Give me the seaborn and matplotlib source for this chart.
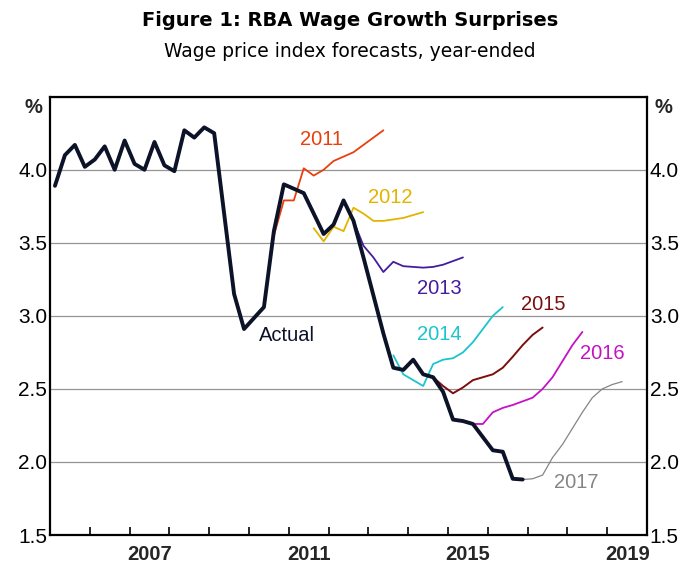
import matplotlib
matplotlib.use("Agg")
import matplotlib.pyplot as plt
import seaborn as sns
import pandas as pd
import numpy as np

# ---------------- data (year-ended WPI growth, %) ----------------
actual_start = "2005Q1"
actual = [3.89, 4.10, 4.17, 4.02, 4.07, 4.16, 4.00, 4.20, 4.04, 4.00, 4.19, 4.03,
          3.99, 4.27, 4.22, 4.29, 4.25, 3.70, 3.15, 2.91, 2.985, 3.06, 3.58, 3.90,
          3.87, 3.84, 3.70, 3.56, 3.625, 3.79, 3.65, 3.40, 3.14, 2.88, 2.645, 2.63,
          2.70, 2.60, 2.58, 2.48, 2.29, 2.28, 2.26, 2.17, 2.08, 2.07, 1.885, 1.88]

f2011_start = "2010Q3"
f2011 = [3.55, 3.79, 3.79, 4.01, 3.96, 4.00, 4.06, 4.09, 4.12, 4.17, 4.22, 4.27]
f2012_start = "2011Q3"
f2012 = [3.60, 3.51, 3.61, 3.58, 3.74, 3.70, 3.65, 3.65, 3.66, 3.67, 3.69, 3.71]
f2013_start = "2012Q3"
f2013 = [3.65, 3.48, 3.40, 3.30, 3.37, 3.34, 3.335, 3.33, 3.335, 3.35, 3.375, 3.40]
f2014_start = "2013Q3"
f2014 = [2.73, 2.60, 2.56, 2.52, 2.67, 2.70, 2.71, 2.75, 2.82, 2.91, 3.00, 3.06]
f2015_start = "2014Q3"
f2015 = [2.58, 2.52, 2.47, 2.51, 2.56, 2.58, 2.60, 2.645, 2.72, 2.80, 2.87, 2.92]
f2016_start = "2015Q3"
f2016 = [2.26, 2.26, 2.34, 2.37, 2.39, 2.415, 2.44, 2.50, 2.58, 2.69, 2.80, 2.89]
f2017_start = "2016Q4"
f2017 = [1.88, 1.885, 1.91, 2.03, 2.12, 2.23, 2.34, 2.44, 2.50, 2.53, 2.55]

series_names = ["Actual", "2011", "2012", "2013", "2014", "2015", "2016", "2017"]
series_starts = [actual_start, f2011_start, f2012_start, f2013_start,
                 f2014_start, f2015_start, f2016_start, f2017_start]
series_values = [actual, f2011, f2012, f2013, f2014, f2015, f2016, f2017]

y_ticks = [1.5, 2.0, 2.5, 3.0, 3.5, 4.0]
x_label_years = [2007, 2011, 2015, 2019]

title = "Figure 1: RBA Wage Growth Surprises"
subtitle = "Wage price index forecasts, year-ended"

# ---------------- styling ----------------
colors = {"Actual": "#0c1228", "2011": "#e8400c", "2012": "#e2b400",
          "2013": "#451c9e", "2014": "#1cc4cc", "2015": "#7c0e0e",
          "2016": "#c412c4", "2017": "#858585"}
widths = {"Actual": 2.8, "2011": 1.3, "2012": 1.3, "2013": 1.3, "2014": 1.3,
          "2015": 1.4, "2016": 1.3, "2017": 0.9}
label_pos = {"Actual": (2010.95, 2.865), "2011": (2011.83, 4.21),
             "2012": (2013.55, 3.81), "2013": (2014.79, 3.185),
             "2014": (2014.79, 2.874), "2015": (2017.40, 3.075),
             "2016": (2018.87, 2.743), "2017": (2018.21, 1.86)}

def quarters(start, n):
    p = pd.period_range(start=start, periods=n, freq="Q")
    return p.year + (p.quarter - 0.5) / 4.0

frames = []
for name, start, vals in zip(series_names, series_starts, series_values):
    frames.append(pd.DataFrame({"x": quarters(start, len(vals)), "y": vals, "series": name}))
df = pd.concat(frames, ignore_index=True)

sns.set_style("white")
plt.rcParams["font.family"] = ["Liberation Sans", "DejaVu Sans"]

fig = plt.figure(figsize=(7.0, 5.86), dpi=100)
ax = fig.add_axes([0.0714, 0.087, 0.853, 0.748])

# draw forecasts first, actual on top
for name in series_names[1:] + series_names[:1]:
    sub = df[df["series"] == name]
    sns.lineplot(data=sub, x="x", y="y", ax=ax, color=colors[name],
                 linewidth=widths[name], legend=False, estimator=None, sort=False,
                 zorder=5 if name == "Actual" else 3)

for name, (lx, ly) in label_pos.items():
    ax.text(lx, ly, name, color=colors[name], fontsize=14.5, ha="center", va="center",
            zorder=6)

ax.set_xlim(2005, 2020)
ax.set_ylim(1.5, 4.5)
ax.set_xlabel("")
ax.set_ylabel("")

# y axis: labels both sides, no tick marks
ax.set_yticks(y_ticks + [4.5])
ax.set_yticklabels([f"{v:.1f}" for v in y_ticks] + [""])
ax.tick_params(axis="y", length=0, labelsize=15, left=True, right=True,
               labelleft=True, labelright=True, pad=2, colors="black")
ax.yaxis.grid(True, color="#959595", linewidth=0.9)
ax.set_axisbelow(True)

# x axis: year-boundary ticks pointing inward, labels centred on years
ax.set_xticks(np.arange(2006, 2020))
ax.set_xticklabels([])
ax.tick_params(axis="x", which="major", direction="in", length=6, width=1.2,
               colors="black", bottom=True)
ax.set_xticks([y + 0.5 for y in x_label_years], minor=True)
ax.set_xticklabels([str(y) for y in x_label_years], minor=True,
                   fontsize=14.5, fontweight="bold")
ax.tick_params(axis="x", which="minor", length=0, pad=7)

for s in ax.spines.values():
    s.set_visible(True)
    s.set_color("black")
    s.set_linewidth(1.6)

ax.text(-0.012, 0.975, "%", transform=ax.transAxes, ha="right", va="center",
        fontsize=14.5, fontweight="bold")
ax.text(1.012, 0.975, "%", transform=ax.transAxes, ha="left", va="center",
        fontsize=14.5, fontweight="bold")

fig.text(0.5, 0.965, title, ha="center", va="center", fontsize=14,
         fontweight="bold", color="black", family=["DejaVu Sans"])
fig.text(0.5, 0.912, subtitle, ha="center", va="center", fontsize=13.5,
         color="black", family=["DejaVu Sans"])

fig.savefig("out.png", dpi=100, facecolor="white")
